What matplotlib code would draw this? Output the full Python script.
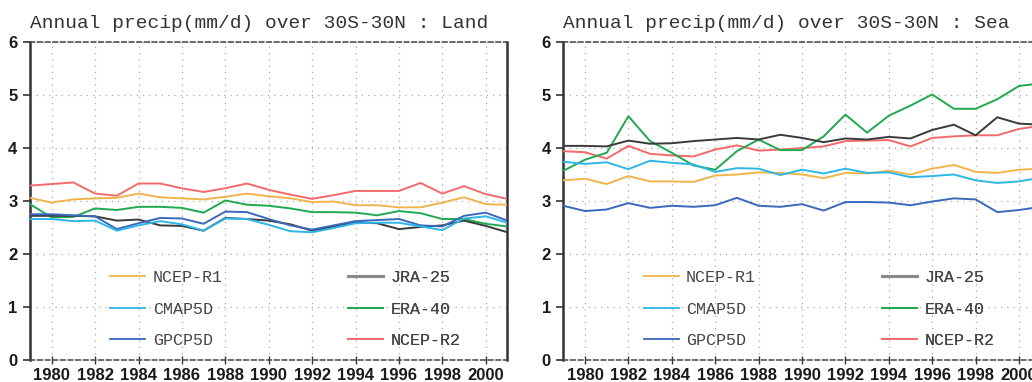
import matplotlib.pyplot as plt
import numpy as np

years = list(range(1979, 2002))

series_names = ["NCEP-R1", "JRA-25", "CMAP5D", "ERA-40", "GPCP5D", "NCEP-R2"]
series_colors = {
    "NCEP-R1": "#f0b44c",
    "JRA-25": "#3a3a3a",
    "CMAP5D": "#2db6e6",
    "ERA-40": "#1faa4f",
    "GPCP5D": "#3a68bc",
    "NCEP-R2": "#f26a6a",
}
legend_colors = dict(series_colors, **{"JRA-25": "#8a8a8a"})

# land, 30S-30N
land_ncep_r1 = [3.06, 2.97, 3.03, 3.05, 3.06, 3.14, 3.07, 3.05, 3.03, 3.08, 3.14, 3.09,
                3.05, 2.98, 2.99, 2.92, 2.92, 2.88, 2.88, 2.97, 3.07, 2.94, 2.93]
land_jra25 = [2.72, 2.72, 2.72, 2.71, 2.63, 2.65, 2.54, 2.53, 2.44, 2.68, 2.66, 2.63,
              2.56, 2.44, 2.52, 2.60, 2.58, 2.47, 2.51, 2.54, 2.63, 2.53, 2.41]
land_cmap = [2.66, 2.66, 2.62, 2.63, 2.44, 2.54, 2.62, 2.56, 2.44, 2.67, 2.66, 2.55,
             2.43, 2.41, 2.49, 2.58, 2.59, 2.59, 2.52, 2.45, 2.67, 2.71, 2.59]
land_era40 = [2.94, 2.69, 2.70, 2.86, 2.83, 2.89, 2.89, 2.87, 2.78, 3.01, 2.93, 2.91,
              2.86, 2.79, 2.79, 2.78, 2.73, 2.81, 2.77, 2.66, 2.66, 2.57, 2.52]
land_gpcp = [2.75, 2.75, 2.73, 2.71, 2.47, 2.58, 2.68, 2.67, 2.57, 2.80, 2.79, 2.66,
             2.54, 2.46, 2.54, 2.62, 2.64, 2.66, 2.54, 2.52, 2.72, 2.78, 2.63]
land_ncep_r2 = [3.29, 3.32, 3.35, 3.14, 3.10, 3.33, 3.33, 3.24, 3.17, 3.24, 3.33, 3.21,
                3.12, 3.04, 3.11, 3.19, 3.19, 3.19, 3.34, 3.14, 3.28, 3.13, 3.04]

# sea, 30S-30N
sea_ncep_r1 = [3.39, 3.42, 3.32, 3.47, 3.37, 3.37, 3.36, 3.48, 3.50, 3.54, 3.53, 3.50,
               3.43, 3.53, 3.52, 3.57, 3.50, 3.61, 3.68, 3.55, 3.53, 3.59, 3.61]
sea_jra25 = [4.04, 4.04, 4.03, 4.14, 4.08, 4.09, 4.13, 4.16, 4.19, 4.16, 4.25, 4.19,
             4.11, 4.18, 4.16, 4.21, 4.18, 4.34, 4.44, 4.24, 4.58, 4.46, 4.44]
sea_cmap = [3.74, 3.70, 3.73, 3.60, 3.76, 3.72, 3.69, 3.55, 3.62, 3.61, 3.49, 3.59,
            3.52, 3.61, 3.53, 3.54, 3.45, 3.47, 3.50, 3.39, 3.34, 3.37, 3.44]
sea_era40 = [3.57, 3.78, 3.91, 4.60, 4.13, 3.91, 3.67, 3.59, 3.94, 4.16, 3.96, 3.96,
             4.22, 4.63, 4.29, 4.61, 4.80, 5.01, 4.74, 4.74, 4.92, 5.17, 5.22]
sea_gpcp = [2.91, 2.81, 2.84, 2.96, 2.87, 2.91, 2.89, 2.92, 3.06, 2.91, 2.89, 2.94,
            2.82, 2.98, 2.98, 2.97, 2.92, 2.99, 3.05, 3.03, 2.79, 2.83, 2.89]
sea_ncep_r2 = [3.94, 3.92, 3.80, 4.04, 3.89, 3.86, 3.84, 3.97, 4.05, 3.95, 3.97, 4.00,
               4.03, 4.13, 4.14, 4.15, 4.03, 4.19, 4.22, 4.24, 4.24, 4.36, 4.42]

land = dict(zip(series_names, [land_ncep_r1, land_jra25, land_cmap,
                               land_era40, land_gpcp, land_ncep_r2]))
sea = dict(zip(series_names, [sea_ncep_r1, sea_jra25, sea_cmap,
                              sea_era40, sea_gpcp, sea_ncep_r2]))

panels = [("Annual precip(mm/d) over 30S-30N : Land", land),
          ("Annual precip(mm/d) over 30S-30N : Sea", sea)]

# draw order so the reanalysis lines overlap the same way
draw_order = ["NCEP-R2", "NCEP-R1", "ERA-40", "JRA-25", "GPCP5D", "CMAP5D"]

# legend is laid out row by row: two columns of three
legend_cols = [["NCEP-R1", "CMAP5D", "GPCP5D"], ["JRA-25", "ERA-40", "NCEP-R2"]]
legend_x = [0.168, 0.667]

W, H = 1032, 382
fig = plt.figure(figsize=(W / 100, H / 100), dpi=100)

axes_px = [(30, 477.4), (563.3, 477.4)]
top_px, bottom_px = 42, 360

mono = "Liberation Mono"

for (title, data), (x0, w) in zip(panels, axes_px):
    ax = fig.add_axes([x0 / W, (H - bottom_px) / H, w / W, (bottom_px - top_px) / H])

    for name in draw_order:
        ax.plot(years, data[name], color=series_colors[name], lw=1.4, zorder=3)

    ax.set_xlim(1979, 2001)
    ax.set_ylim(0, 6)
    ax.set_xticks(range(1980, 2001, 2))
    ax.set_yticks(range(0, 7))
    ax.grid(True, color="#aaaaaa", linestyle=(0, (1, 4)), lw=0.9)

    for lab in ax.get_xticklabels() + ax.get_yticklabels():
        lab.set_fontfamily("Liberation Sans")
        lab.set_fontweight("bold")
        lab.set_fontsize(12)
        lab.set_color("#1a1a1a")

    ax.tick_params(axis="y", direction="out", length=5, width=1.2, pad=4, color="#333333")
    ax.tick_params(axis="x", direction="inout", length=6, width=1.0, pad=3, color="#333333")

    for side in ["left", "right"]:
        ax.spines[side].set_linewidth(1.8)
        ax.spines[side].set_color("#333333")
    for side in ["top", "bottom"]:
        ax.spines[side].set_linewidth(1.1)
        ax.spines[side].set_color("#444444")
        ax.spines[side].set_linestyle((0, (3, 2)))

    ax.text(0.0, 1.044, title, transform=ax.transAxes, family=mono,
            fontsize=14, color="#333333", va="baseline", ha="left")

    for names, lx in zip(legend_cols, legend_x):
        handles = [ax.plot([], [], color=legend_colors[n],
                           lw=2.2 if n == "JRA-25" else 1.3)[0] for n in names]
        leg = ax.legend(handles, names, frameon=False, loc="center left",
                        bbox_to_anchor=(lx, 0.16), borderpad=0, borderaxespad=0,
                        handlelength=2.1, handletextpad=0.45, labelspacing=0.98,
                        prop={"family": mono, "size": 12})
        for t in leg.get_texts():
            t.set_color("#444444")
        ax.add_artist(leg)

fig.savefig("out.png", dpi=100)
